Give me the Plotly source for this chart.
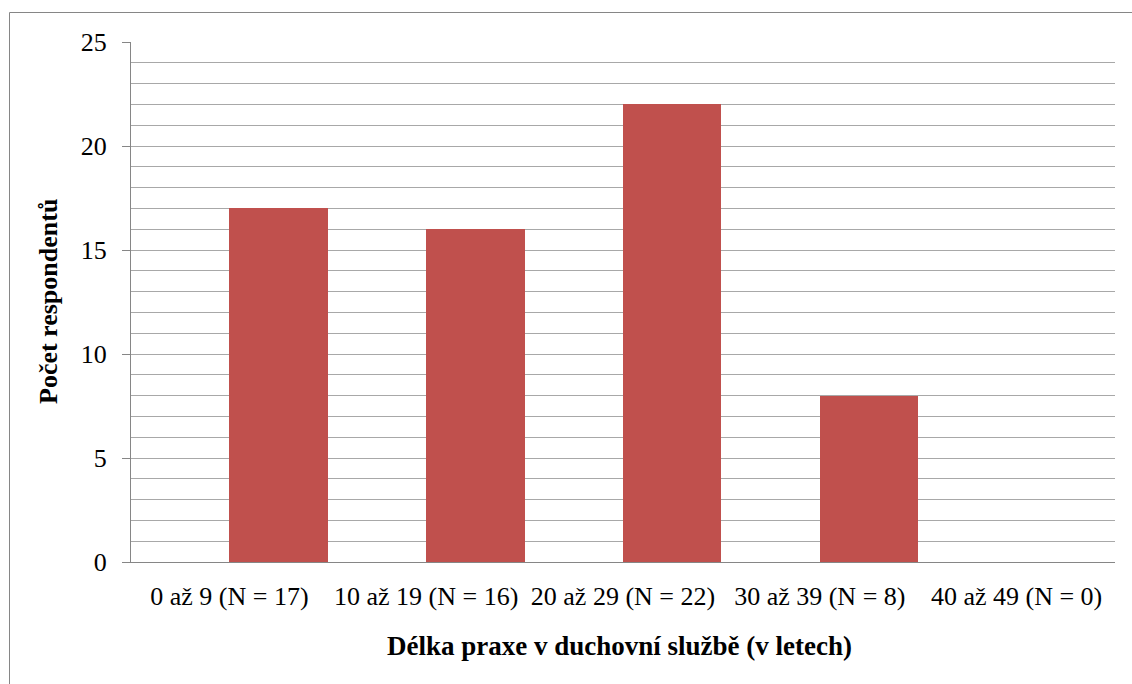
import plotly.graph_objects as go

# Data: respondents by length of practice in spiritual service
categories = [
    "0 až 9 (N = 17)",
    "10 až 19 (N = 16)",
    "20 až 29 (N = 22)",
    "30 až 39 (N = 8)",
    "40 až 49 (N = 0)",
]
respondents = [17, 16, 22, 8, 0]

y_title = "Počet respondentů"
x_title = "Délka praxe v duchovní službě (v letech)"

W, H = 1132, 684
L, R, T, B = 131, 17, 42, 122
plot_w = W - L - R
plot_h = H - T - B

FONT = "Liberation Serif, Times New Roman, serif"
AXIS_COLOR = "#868686"
GRID_COLOR = "#a8a8a8"
FS = 26

fig = go.Figure(
    go.Bar(
        x=categories,
        y=respondents,
        offset=0,
        width=0.5,
        marker=dict(color="#C0504D", line=dict(width=0)),
        hovertemplate="%{x}: %{y}<extra></extra>",
    )
)

fig.update_layout(
    width=W,
    height=H,
    margin=dict(l=L, r=R, t=T, b=B),
    paper_bgcolor="white",
    plot_bgcolor="white",
    showlegend=False,
    font=dict(family=FONT, color="black", size=FS),
    bargap=0,
)

fig.update_xaxes(
    type="category",
    range=[-0.5, len(categories) - 0.5],
    showline=True,
    linecolor=AXIS_COLOR,
    linewidth=1,
    showgrid=False,
    ticks="",
    ticklabelstandoff=11,
    tickfont=dict(size=FS, family=FONT),
)

fig.update_yaxes(
    range=[0, 25],
    dtick=5,
    tick0=0,
    showline=True,
    linecolor=AXIS_COLOR,
    linewidth=1,
    ticks="outside",
    ticklen=8,
    tickcolor=AXIS_COLOR,
    ticklabelstandoff=10,
    showgrid=True,
    gridcolor=GRID_COLOR,
    gridwidth=1,
    zeroline=False,
    minor=dict(dtick=1, showgrid=True, gridcolor=GRID_COLOR, gridwidth=1, ticks=""),
    tickfont=dict(size=FS, family=FONT),
)

# Axis titles
fig.add_annotation(
    text=f"<b>{y_title}</b>",
    xref="paper", yref="paper",
    x=(48 - L) / plot_w, y=(H - B - 302) / plot_h,
    textangle=-90,
    showarrow=False,
    font=dict(size=FS, family=FONT),
    xanchor="center", yanchor="middle",
)
fig.add_annotation(
    text=f"<b>{x_title}</b>",
    xref="paper", yref="paper",
    x=(619 - L) / plot_w, y=(H - B - 646) / plot_h,
    showarrow=False,
    font=dict(size=27, family=FONT),
    xanchor="center", yanchor="middle",
)

# Chart-area frame, running off the right and bottom edges
fig.add_shape(
    type="rect",
    xref="paper", yref="paper",
    x0=(9.5 - L) / plot_w, x1=(W + 20 - L) / plot_w,
    y0=(H - B - (H + 20)) / plot_h, y1=(H - B - 12.5) / plot_h,
    line=dict(color=AXIS_COLOR, width=1),
    fillcolor="rgba(0,0,0,0)",
    layer="below",
)

fig.write_html("out.html")
